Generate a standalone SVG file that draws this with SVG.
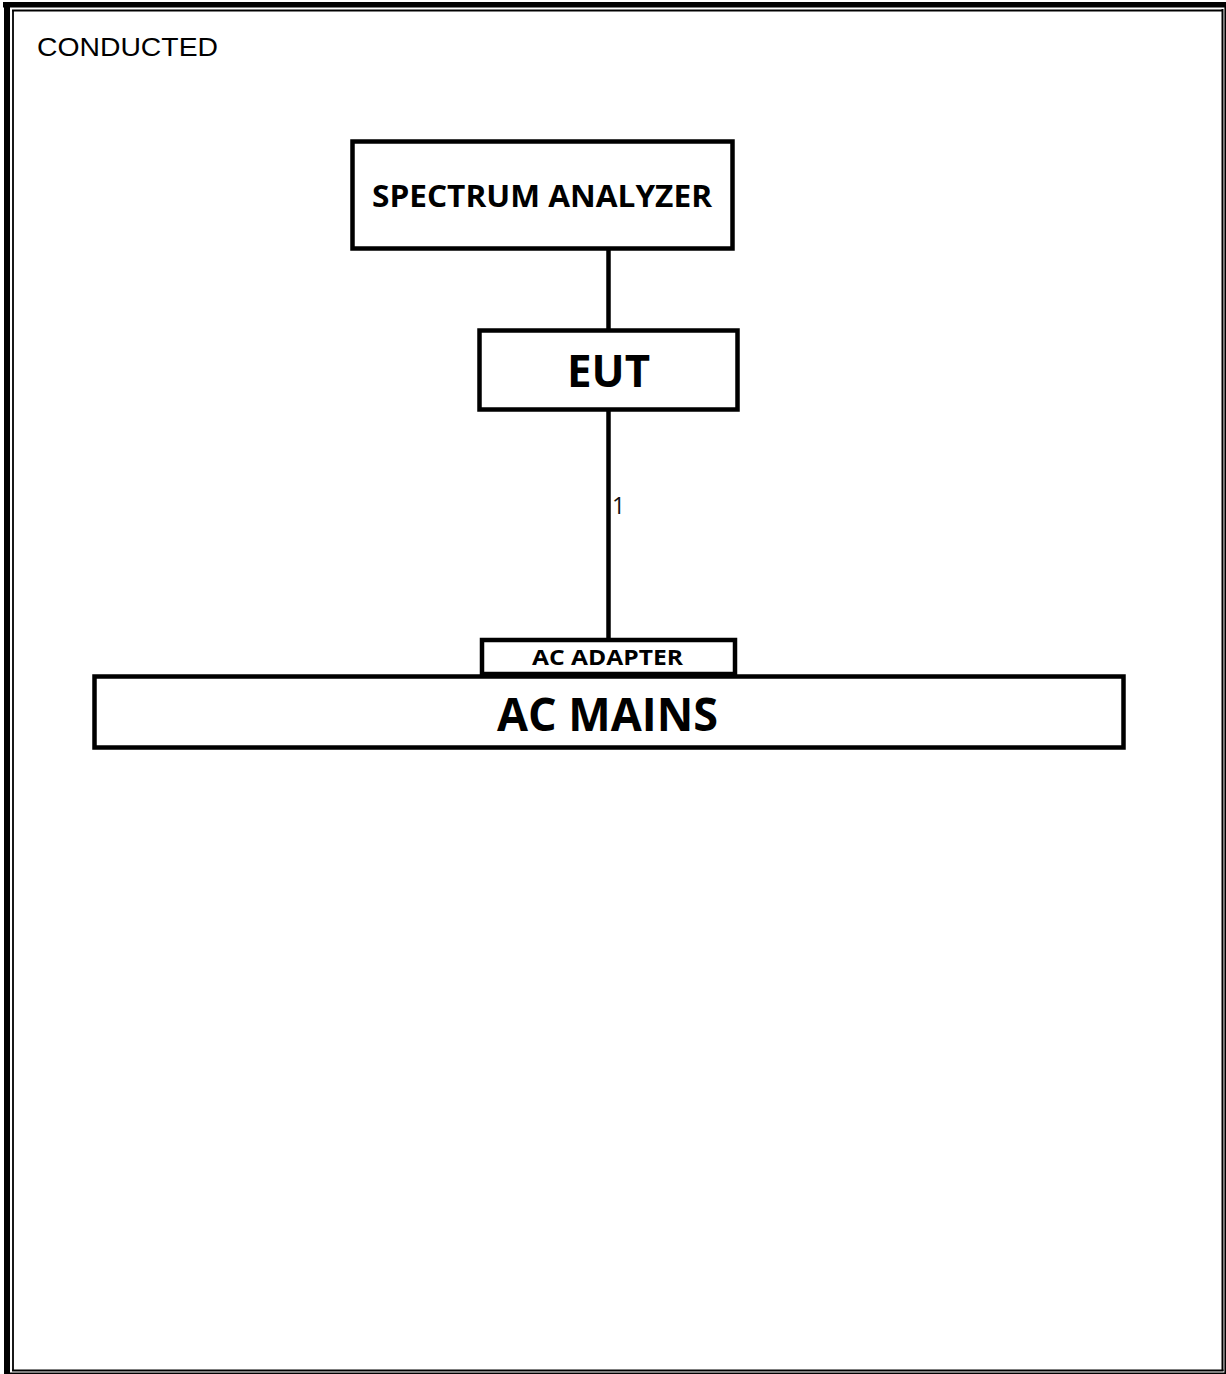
<svg xmlns="http://www.w3.org/2000/svg" width="1226" height="1374" viewBox="0 0 1226 1374">
<style>
.box{fill:#fff;stroke:#000;stroke-width:4.5}
.lbl{font-family:"Open Sans","Liberation Sans",sans-serif;font-weight:bold;fill:#000;text-anchor:middle}
.conn{stroke:#000;stroke-width:4.5;fill:none}
.frame{fill:none;stroke:#000}
</style>
<rect width="1226" height="1374" fill="#fff"/>
<g id="page-border">
<rect x="3" y="2" width="1223" height="5.5" fill="#000"/>
<rect x="4" y="2" width="6" height="1372" fill="#000"/>
<line class="frame" x1="12" y1="10.5" x2="1223" y2="10.5" stroke-width="1.8"/>
<line class="frame" x1="13" y1="10" x2="13" y2="1371" stroke-width="1.8"/>
<line class="frame" x1="1222.5" y1="9" x2="1222.5" y2="1371" stroke-width="2"/>
<line class="frame" x1="12" y1="1370.5" x2="1223.5" y2="1370.5" stroke-width="1.8"/>
<line class="frame" x1="1225.2" y1="7" x2="1225.2" y2="1374" stroke-width="1.6"/>
<line class="frame" x1="4" y1="1373.2" x2="1226" y2="1373.2" stroke-width="1.6"/>
</g>
<text id="title" x="37" y="56" font-family="'Liberation Sans',Arial,sans-serif" font-size="26" textLength="181" lengthAdjust="spacingAndGlyphs">CONDUCTED</text>
<g id="connectors">
<line class="conn" x1="608.5" y1="250" x2="608.5" y2="330"/>
<line class="conn" x1="608.5" y1="410" x2="608.5" y2="640"/>
<text x="612" y="514" font-family="'Open Sans','Liberation Sans',sans-serif" font-size="23" fill="#111">1</text>
</g>
<g id="spectrum-analyzer">
<rect class="box" x="352.5" y="141.5" width="380" height="107"/>
<text class="lbl" x="542" y="207" font-size="31" textLength="340" lengthAdjust="spacingAndGlyphs">SPECTRUM  ANALYZER</text>
</g>
<g id="eut">
<rect class="box" x="479.5" y="330.5" width="258" height="79"/>
<text class="lbl" x="608.5" y="387" font-size="45" textLength="83" lengthAdjust="spacingAndGlyphs">EUT</text>
</g>
<g id="ac-mains">
<rect class="box" x="94.5" y="676.5" width="1029" height="71"/>
<text class="lbl" x="607.5" y="731" font-size="46" textLength="221" lengthAdjust="spacingAndGlyphs">AC MAINS</text>
</g>
<g id="ac-adapter">
<rect class="box" x="482" y="640" width="253" height="34"/>
<text class="lbl" x="607.5" y="665" font-size="22" textLength="151" lengthAdjust="spacingAndGlyphs">AC ADAPTER</text>
</g>
</svg>
